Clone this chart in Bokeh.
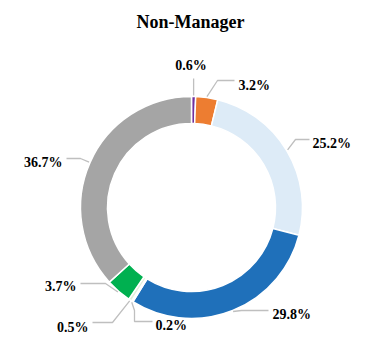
import math
from bokeh.plotting import figure
from bokeh.models import Range1d, Label, ColumnDataSource
from bokeh.core.properties import value
from bokeh.embed import file_html
from bokeh.resources import INLINE

title_text = "Non-Manager"
labels = ["0.6%", "3.2%", "25.2%", "29.8%", "0.2%", "0.5%", "3.7%", "36.7%"]
values = [0.6, 3.2, 25.2, 29.8, 0.2, 0.5, 3.7, 36.7]
colors = ["#7030A0", "#ED7D31", "#DDEBF7", "#1F70BA", "#FFF2CC", "#E2EFDA", "#00B050", "#A5A5A5"]

W, H = 368, 348
OFF = 0
def Y(py):
    return H + OFF - py

p = figure(width=W, height=H, x_range=Range1d(OFF, OFF + W), y_range=Range1d(OFF, OFF + H),
           output_backend="svg", toolbar_location=None, min_border=0,
           x_axis_location=None, y_axis_location=None)
p.grid.visible = False
p.outline_line_color = None

cx, cy = 191, Y(207)
r_in, r_out = 84, 111

total = sum(values)
starts, ends, mids = [], [], []
acc = 0.0
for v in values:
    t0 = acc / total * 2 * math.pi
    acc += v
    t1 = acc / total * 2 * math.pi
    starts.append(math.pi / 2 - t0)
    ends.append(math.pi / 2 - t1)
    mids.append((t0 + t1) / 2)

src = ColumnDataSource(dict(start=starts, end=ends, color=colors))
p.annular_wedge(x=cx, y=cy, inner_radius=r_in, outer_radius=r_out, start_angle="start",
                end_angle="end", direction="clock", fill_color="color", line_color="white",
                line_width=1.5, source=src)

# label layout (image pixel coords): elbow points, text anchor, alignment
layout = [
    dict(pts=[(None, 78)], tx=190.5, ty=65, align="center"),
    dict(pts=[(217, 80), (234, 80)], tx=238, ty=85, align="left"),
    dict(pts=[(295, 139), (309, 139)], tx=312, ty=143, align="left"),
    dict(pts=[(241, 310), (268, 310)], tx=272, ty=314, align="left"),
    dict(pts=[(134, 310), (134, 321), (152, 321)], tx=155, ty=325, align="left"),
    dict(pts=[(112, 322), (92, 322)], tx=88, ty=327, align="right"),
    dict(pts=[(105, 283), (80, 283)], tx=76, ty=286, align="right"),
    dict(pts=[(80, 158), (66, 158)], tx=62, ty=162, align="right"),
]

xs, ys = [], []
tx, ty, ta = [], [], []
for m, lay in zip(mids, layout):
    ax = cx + (r_out + 1) * math.sin(m)
    ay = cy + (r_out + 1) * math.cos(m)
    lx, ly = [ax], [ay]
    for (px, py) in lay["pts"]:
        lx.append(ax if px is None else px)
        ly.append(Y(py))
    xs.append(lx)
    ys.append(ly)
    tx.append(lay["tx"])
    ty.append(Y(lay["ty"]))
    ta.append(lay["align"])

p.multi_line(xs=xs, ys=ys, line_color="#BFBFBF", line_width=1.3)

tsrc = ColumnDataSource(dict(x=tx, y=ty, text=labels, align=ta))
p.text(x="x", y="y", text="text", text_align="align", text_baseline="alphabetic",
       text_font=value("Liberation Serif"), text_font_style="bold",
       text_font_size="14px", text_color="#000000", source=tsrc)

p.add_layout(Label(x=190, y=Y(21), text=title_text, text_align="center",
                   text_baseline="alphabetic", text_font="Liberation Serif",
                   text_font_style="bold", text_font_size="18px", text_color="#000000"))

open("out.html", "w").write(file_html(p, INLINE))
